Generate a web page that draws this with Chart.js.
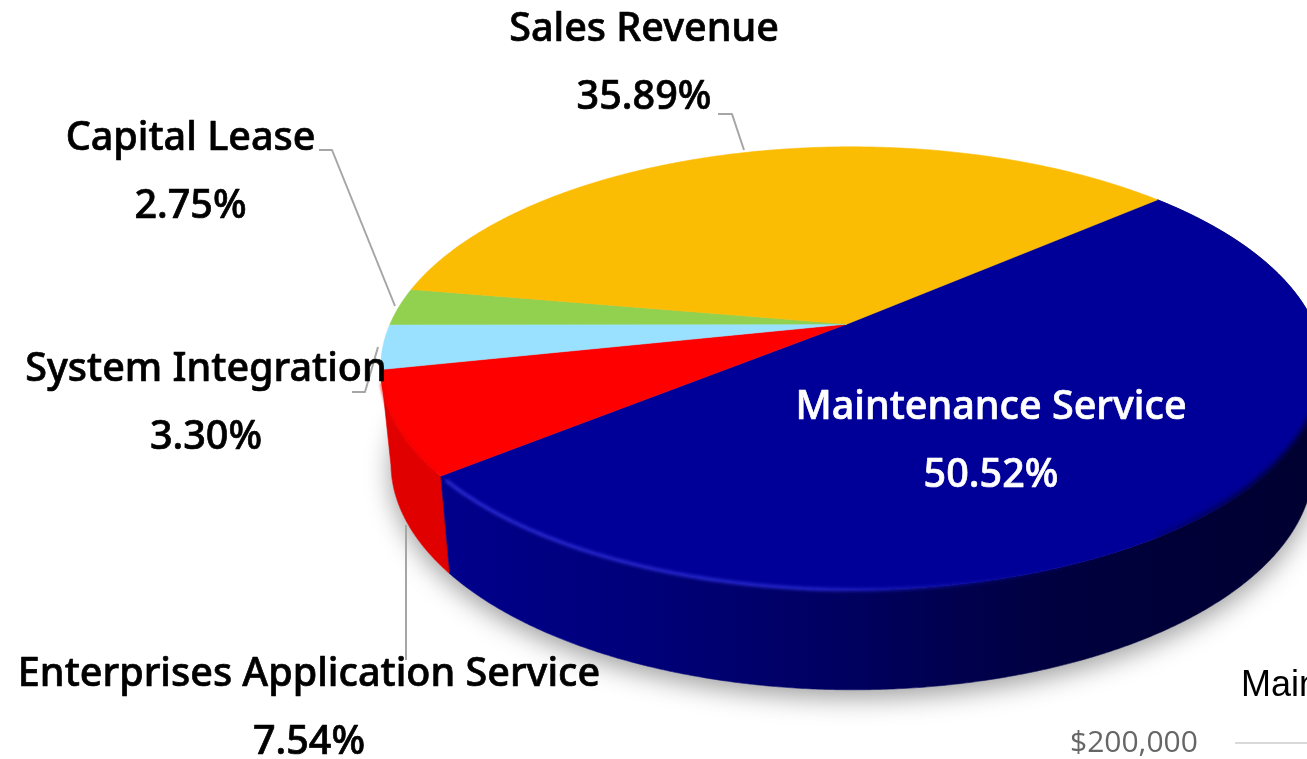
<!DOCTYPE html>
<html><head><meta charset="utf-8">
<style>html,body{margin:0;padding:0;background:#fff;overflow:hidden}#wrap{position:relative;width:1307px;height:759px}</style>
<script src="https://cdn.jsdelivr.net/npm/chart.js@4"></script>
</head><body><div id="wrap"><canvas id="c" width="1307" height="759"></canvas></div>
<script>
const categories = ['Maintenance Service','Enterprises Application Service','System Integration','Capital Lease','Sales Revenue'];
const values = [50.52, 7.54, 3.30, 2.75, 35.89];
const topColors = ['#000099','#FF0000','#99E1FF','#92D050','#FBBC04'];
const wallColors = ['#000080','#E00000'];
const textFont = '500 39.5px "Noto Sans"';

// perspective camera for the tilted disc
const K = 0.2, M = 0.011, AX = 2.31, BY = 1.063, SX = 0.978, SY = 1.02, DROP = 0.4735;

function project(el, ang, bottom){
  const u = Math.cos(ang), v = Math.sin(ang), w = 1 - K*v - M*u, R = el.outerRadius;
  return [el.x + (bottom?SX:1)*AX*R*u/w, el.y + (bottom?SY:1)*BY*R*v/w + (bottom ? DROP*R : 0)];
}
function trace(ctx, el, a0, a1, bottom, first){
  const n = Math.max(2, Math.ceil(Math.abs(a1-a0)/0.006));
  for(let i=0;i<=n;i++){
    const p = project(el, a0+(a1-a0)*i/n, bottom);
    if(i===0 && first) ctx.moveTo(p[0],p[1]); else ctx.lineTo(p[0],p[1]);
  }
}
const labelSpec = [
  {cx:991, y1:408, y2:476, color:'#fff'},
  {cx:309, y1:675, y2:743, color:'#000'},
  {cx:206, y1:370, y2:438, color:'#000'},
  {cx:190.5, y1:139, y2:207, color:'#000'},
  {cx:644, y1:30, y2:98, color:'#000'}
];
const leaders = [
  null,
  [[406,525],[406,660]],
  [[352,392],[365,392],[378,347]],
  [[319,150],[332,150],[395,306]],
  [[718,114],[732,114],[744,150]]
];

const pie3d = {
  id:'pie3d',
  beforeDatasetsDraw(chart){
    const ctx = chart.ctx, arcs = chart.getDatasetMeta(0).data.map(a=>a.getProps(['x','y','startAngle','endAngle','outerRadius'],true));
    const first = arcs[0];
    // shadow under the base
    ctx.save();
    ctx.shadowColor='rgba(0,0,0,0.38)'; ctx.shadowBlur=26; ctx.shadowOffsetY=8;
    ctx.fillStyle='#fff';
    ctx.beginPath(); trace(ctx, first, 0, Math.PI*2, true, true); ctx.closePath(); ctx.fill();
    ctx.restore();
    // walls of the two front-facing slices
    [1,0].forEach(i=>{
      const el = arcs[i];
      ctx.beginPath();
      trace(ctx, el, el.startAngle, el.endAngle, false, true);
      trace(ctx, el, el.endAngle, el.startAngle, true, false);
      ctx.closePath();
      let fill = wallColors[i];
      if(i===0){
        const g = ctx.createLinearGradient(440,0,1320,0);
        g.addColorStop(0,'#00008C'); g.addColorStop(0.2,'#00007C'); g.addColorStop(0.46,'#000060');
        g.addColorStop(0.7,'#00003F'); g.addColorStop(1,'#000030');
        fill = g;
      }
      ctx.fillStyle = fill; ctx.strokeStyle = fill; ctx.lineWidth = 0.6;
      ctx.fill(); ctx.stroke();
    });
    // top faces
    arcs.forEach((el,i)=>{
      ctx.beginPath();
      ctx.moveTo(el.x, el.y);
      trace(ctx, el, el.startAngle, el.endAngle, false, false);
      ctx.closePath();
      ctx.fillStyle = topColors[i]; ctx.strokeStyle = topColors[i]; ctx.lineWidth = 0.6;
      ctx.fill(); ctx.stroke();
    });
    // soft bevel on the front rim
    ctx.save();
    ctx.filter='blur(1.4px)';
    const hg = ctx.createLinearGradient(440,0,1120,0);
    hg.addColorStop(0,'rgba(40,40,205,1)'); hg.addColorStop(0.55,'rgba(36,36,200,0.95)');
    hg.addColorStop(1,'rgba(0,0,150,0)');
    ctx.strokeStyle=hg; ctx.lineWidth=3.6;
    ctx.beginPath(); trace(ctx, first, first.endAngle-0.02, first.endAngle-2.0, false, true); ctx.stroke();
    ctx.strokeStyle='rgba(240,0,0,0.8)'; ctx.lineWidth=3;
    ctx.beginPath(); trace(ctx, arcs[1], arcs[1].startAngle+0.02, arcs[1].endAngle-0.06, false, true); ctx.stroke();
    const dg = ctx.createLinearGradient(1120,0,1290,0);
    dg.addColorStop(0,'rgba(0,0,50,0)'); dg.addColorStop(1,'rgba(0,0,50,0.95)');
    ctx.filter='blur(2.4px)';
    ctx.strokeStyle=dg; ctx.lineWidth=8;
    ctx.beginPath(); trace(ctx, first, first.startAngle+0.9, first.startAngle+1.7, false, true); ctx.stroke();
    ctx.restore();
    return false;
  },
  afterDraw(chart){
    const ctx = chart.ctx;
    ctx.save();
    ctx.strokeStyle='#A6A6A6'; ctx.lineWidth=2; ctx.lineJoin='round';
    leaders.forEach(l=>{ if(!l) return; ctx.beginPath(); l.forEach((p,i)=> i?ctx.lineTo(p[0],p[1]):ctx.moveTo(p[0],p[1])); ctx.stroke(); });
    ctx.strokeStyle='#D9D9D9'; ctx.beginPath(); ctx.moveTo(1235,743); ctx.lineTo(1307,743); ctx.stroke();
    ctx.textAlign='center'; ctx.textBaseline='middle';
    ctx.font=textFont; ctx.lineWidth=0.7;
    categories.forEach((name,i)=>{
      const s = labelSpec[i], pct = values[i].toFixed(2)+'%';
      ctx.fillStyle=s.color; ctx.strokeStyle=s.color;
      ctx.fillText(name, s.cx, s.y1); ctx.strokeText(name, s.cx, s.y1);
      ctx.fillText(pct, s.cx, s.y2); ctx.strokeText(pct, s.cx, s.y2);
    });
    ctx.textAlign='left';
    ctx.fillStyle='#000'; ctx.font='36px "Liberation Sans"'; ctx.textBaseline='alphabetic';
    ctx.fillText('Maintenance Service', 1241, 696);
    ctx.fillStyle='#666'; ctx.font='30px "Open Sans"'; ctx.textBaseline='middle';
    ctx.fillText('$200,000', 1070, 743);
    ctx.restore();
  }
};

new Chart(document.getElementById('c'),{
  type:'pie',
  data:{labels:categories,datasets:[{data:values,backgroundColor:topColors,borderWidth:0}]},
  options:{
    responsive:false,animation:false,rotation:49,
    layout:{padding:{left:647,right:260,top:124,bottom:235}},
    plugins:{legend:{display:false},tooltip:{enabled:false},title:{display:false}}
  },
  plugins:[pie3d]
});
</script></body></html>
